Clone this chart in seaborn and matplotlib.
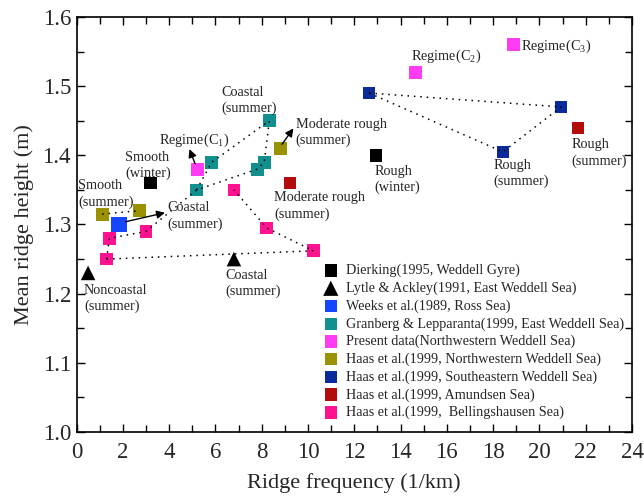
import matplotlib
matplotlib.use("Agg")
import matplotlib.pyplot as plt
import seaborn as sns
import numpy as np
import pandas as pd

# ---- data: ridge frequency (1/km) and mean ridge height (m) ----
dierking_x = [3.2, 12.95]
dierking_y = [1.36, 1.40]

lytle_x = [0.5, 6.8]
lytle_y = [1.23, 1.25]

weeks_x = [1.82]
weeks_y = [1.30]

granberg_x = [8.33, 5.84, 5.19, 8.11, 7.81]
granberg_y = [1.45, 1.39, 1.35, 1.39, 1.38]

present_x = [5.22, 14.65, 18.87]
present_y = [1.38, 1.52, 1.56]

haas_nw_x = [1.11, 2.71, 8.83]
haas_nw_y = [1.315, 1.32, 1.41]

haas_se_x = [12.64, 20.94, 18.42]
haas_se_y = [1.49, 1.47, 1.405]

haas_am_x = [9.22, 21.65]
haas_am_y = [1.36, 1.44]

haas_be_x = [1.30, 1.42, 3.0, 6.8, 8.22, 10.23]
haas_be_y = [1.25, 1.28, 1.29, 1.35, 1.295, 1.262]

series_labels = [
    "Dierking(1995, Weddell Gyre)",
    "Lytle & Ackley(1991, East Weddell Sea)",
    "Weeks et al.(1989, Ross Sea)",
    "Granberg & Lepparanta(1999, East Weddell Sea)",
    "Present data(Northwestern Weddell Sea)",
    "Haas et al.(1999, Northwestern Weddell Sea)",
    "Haas et al.(1999, Southeastern Weddell Sea)",
    "Haas et al.(1999, Amundsen Sea)",
    "Haas et al.(1999,  Bellingshausen Sea)",
]

# dotted connector paths, as lists of (x, y) points
connector_paths = [
    ([haas_be_x[0], haas_be_x[1], haas_be_x[2], granberg_x[2], granberg_x[4], granberg_x[3], granberg_x[0]],
     [haas_be_y[0], haas_be_y[1], haas_be_y[2], granberg_y[2], granberg_y[4], granberg_y[3], granberg_y[0]]),
    ([granberg_x[2], granberg_x[1], granberg_x[0]],
     [granberg_y[2], granberg_y[1], granberg_y[0]]),
    ([haas_be_x[0], haas_be_x[5], haas_be_x[4], haas_be_x[3]],
     [haas_be_y[0], haas_be_y[5], haas_be_y[4], haas_be_y[3]]),
    ([haas_nw_x[0], haas_nw_x[1]], [haas_nw_y[0], haas_nw_y[1]]),
    ([haas_se_x[0], haas_se_x[1], haas_se_x[2], haas_se_x[0]],
     [haas_se_y[0], haas_se_y[1], haas_se_y[2], haas_se_y[0]]),
]

# annotations: text, x, y (centre of the text block, left aligned)
notes = [
    ("Regime(C$_1$)", 3.58, 1.422),
    ("Smooth\n(winter)", 2.10, 1.385),
    ("Smooth\n(summer)", 0.06, 1.344),
    ("Coastal\n(summer)", 3.92, 1.312),
    ("Coastal\n(summer)", 6.27, 1.479),
    ("Moderate rough\n(summer)", 9.47, 1.433),
    ("Moderate rough\n(summer)", 8.54, 1.327),
    ("Noncoastal\n(summer)", 0.32, 1.193),
    ("Coastal\n(summer)", 6.44, 1.215),
    ("Rough\n(winter)", 12.86, 1.365),
    ("Rough\n(summer)", 18.0, 1.374),
    ("Rough\n(summer)", 21.39, 1.403),
    ("Regime(C$_2$)", 14.45, 1.543),
    ("Regime(C$_3$)", 19.19, 1.558),
]

# arrows: (tail, head)
arrows = [
    ((weeks_x[0] + 0.3, weeks_y[0] + 0.004), (3.82, 1.317)),
    ((present_x[0] - 0.1, present_y[0] + 0.008), (4.88, 1.409)),
    ((haas_nw_x[2] + 0.05, haas_nw_y[2] + 0.006), (9.37, 1.439)),
]

# ---- styling ----
sns.set_style("ticks")
plt.rcParams["font.family"] = ["Liberation Serif", "DejaVu Serif"]
plt.rcParams["mathtext.fontset"] = "custom"
plt.rcParams["mathtext.rm"] = "Liberation Serif"
plt.rcParams["mathtext.it"] = "Liberation Serif:italic"

fig = plt.figure(figsize=(6.44, 4.98), dpi=100)
ax = fig.add_axes([0.1188, 0.1325, 0.8626, 0.8334])

colors = ["#000000", "#000000", "#1446ff", "#11908f", "#ff3cf4",
          "#9a9200", "#0b2a9a", "#b30c0c", "#ff1290"]
markers = ["s", "^", "s", "s", "s", "s", "s", "s", "s"]
sizes = [80, 110, 130, 85, 85, 85, 75, 75, 85]
legend_sizes = [80, 120, 80, 80, 80, 80, 80, 80, 80]
xs = [dierking_x, lytle_x, weeks_x, granberg_x, present_x,
      haas_nw_x, haas_se_x, haas_am_x, haas_be_x]
ys = [dierking_y, lytle_y, weeks_y, granberg_y, present_y,
      haas_nw_y, haas_se_y, haas_am_y, haas_be_y]

for x, y, lab, c, m, s in zip(xs, ys, series_labels, colors, markers, sizes):
    df = pd.DataFrame({"x": x, "y": y})
    sns.scatterplot(data=df, x="x", y="y", marker=m, color=c, s=s,
                    edgecolor="none", linewidth=0, label=lab, ax=ax, zorder=3)

for px, py in connector_paths:
    dfp = pd.DataFrame({"x": px, "y": py})
    sns.lineplot(data=dfp, x="x", y="y", sort=False, estimator=None,
                 color="black", linewidth=1.1, linestyle=(0, (1, 3.2)),
                 ax=ax, zorder=4, legend=False)

for txt, tx, ty in notes:
    ax.text(tx, ty, txt, ha="left", va="center", fontsize=10.3,
            linespacing=1.3, zorder=5)

for (x0, y0), (x1, y1) in arrows:
    ax.annotate("", xy=(x1, y1), xytext=(x0, y0),
                arrowprops=dict(arrowstyle="-|>", color="black", lw=1.0,
                                mutation_scale=12, shrinkA=0, shrinkB=0),
                zorder=5)

ax.set_xlim(0, 24)
ax.set_ylim(1.0, 1.6)
ax.set_xticks(np.arange(0, 25, 2))
ax.set_xticks(np.arange(0, 25, 1), minor=True)
ax.set_yticks(np.round(np.arange(1.0, 1.61, 0.1), 1))
ax.set_yticks(np.round(np.arange(1.0, 1.61, 0.05), 2), minor=True)
ax.yaxis.set_major_formatter(matplotlib.ticker.FormatStrFormatter("%.1f"))

ax.tick_params(which="both", direction="in", top=True, right=True,
               color="black", width=1.0)
ax.tick_params(which="major", length=6, labelsize=16.5)
ax.tick_params(which="minor", length=5)
ax.tick_params(axis="x", which="major", pad=7)
ax.tick_params(axis="y", which="major", pad=4)
for sp in ax.spines.values():
    sp.set_visible(True)
    sp.set_linewidth(1.2)
    sp.set_color("black")

ax.set_xlabel("Ridge frequency (1/km)", fontsize=16)
ax.set_ylabel("Mean ridge height (m)", fontsize=16)
ax.xaxis.set_label_coords(0.5, -0.1)
ax.yaxis.set_label_coords(-0.077, 0.5)

handles, labels = ax.get_legend_handles_labels()
leg = ax.legend(handles, labels, loc="upper left",
                bbox_to_anchor=(0.445, 0.405), frameon=False, fontsize=10.2,
                borderpad=0, borderaxespad=0, handlelength=1.0,
                handletextpad=0.6, labelspacing=0.3, markerscale=1.0)
for h, s in zip(leg.legend_handles, legend_sizes):
    h.set_sizes([s])

fig.savefig("out.png", dpi=100)
